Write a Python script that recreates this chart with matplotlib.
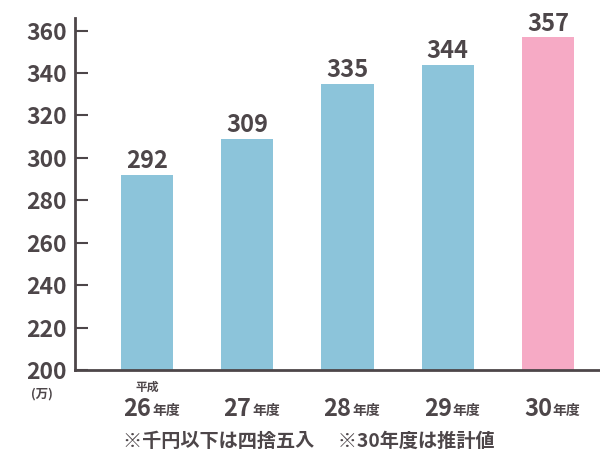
import matplotlib.pyplot as plt
from matplotlib.transforms import blended_transform_factory

plt.rcParams['font.family'] = ['Noto Sans CJK JP', 'DejaVu Sans']

# values in 万
years = ["26", "27", "28", "29", "30"]
values = [292, 309, 335, 344, 357]
colors = ["#8cc4da", "#8cc4da", "#8cc4da", "#8cc4da", "#f6aac5"]
yticks = [200, 220, 240, 260, 280, 300, 320, 340, 360]

txt = "#4d4649"

fig = plt.figure(figsize=(6, 4.58), dpi=100)
ax = fig.add_axes([0.125, 0.192, 0.875, 0.769])

x = list(range(len(years)))
ax.bar(x, [v - 200 for v in values], bottom=200, width=0.52, color=colors)

for xi, v in zip(x, values):
    ax.annotate(str(v), (xi, v), xytext=(0, 1), textcoords="offset points",
                ha="center", va="bottom", fontsize=17, fontweight="bold", color=txt)

ax.set_xlim(-0.72, 4.52)
ax.set_ylim(200, 366)
ax.set_yticks(yticks)
ax.set_yticklabels([str(t) for t in yticks], fontsize=16.5, fontweight="bold", color=txt)
ax.tick_params(axis="y", direction="in", length=9, width=1.5, color=txt, pad=6)
ax.set_xticks([])

for s in ["top", "right"]:
    ax.spines[s].set_visible(False)
ax.spines["left"].set_color(txt)
ax.spines["left"].set_linewidth(2)
ax.spines["bottom"].set_color(txt)
ax.spines["bottom"].set_linewidth(2)

# category labels: big number + small 年度
trans = blended_transform_factory(ax.transData, ax.transAxes)
for xi, yr in zip(x, years):
    ax.text(xi + 0.04, -0.11, yr, transform=trans, ha="right", va="center",
            fontsize=17, fontweight="bold", color=txt)
    ax.text(xi + 0.05, -0.117, "年度", transform=trans, ha="left", va="center",
            fontsize=10, fontweight="bold", color=txt)
ax.text(0, -0.05, "平成", transform=trans, ha="center", va="center",
        fontsize=8.5, fontweight="bold", color=txt)

fig.text(0.07, 0.14, "(万)", ha="center", va="center", fontsize=9,
         fontweight="bold", color=txt)
fig.text(0.515, 0.036, "※千円以下は四捨五入　 ※30年度は推計値", ha="center",
         va="center", fontsize=13.8, fontweight="bold", color=txt)

fig.savefig("out.png", dpi=100)
